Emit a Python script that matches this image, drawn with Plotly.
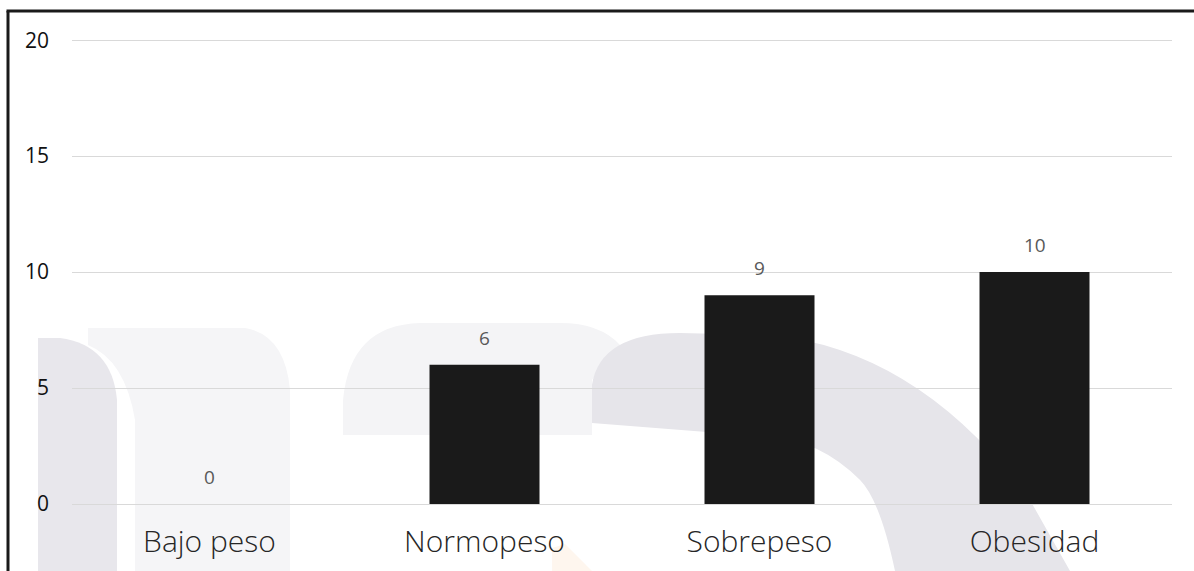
import plotly.graph_objects as go

categories = ["Bajo peso", "Normopeso", "Sobrepeso", "Obesidad"]
values = [0, 6, 9, 10]
y_ticks = [0, 5, 10, 15, 20]

W, H = 1194, 571
L, R, T, B = 72, 22, 39, 67
PW, PH = W - L - R, H - T - B


def px(x):
    return (x - L) / PW


def py(y):
    return (H - B - y) / PH


def path(cmds):
    out = []
    for c in cmds:
        if isinstance(c, str):
            out.append(c)
        else:
            out.append(f"{px(c[0]):.4f},{py(c[1]):.4f}")
    return " ".join(out)


fig = go.Figure()
fig.add_trace(go.Bar(
    x=categories, y=values,
    marker=dict(color="#1a1a1a", line=dict(width=0)),
    width=0.4,
    hoverinfo="skip",
))

annotations = []
for c, v in zip(categories, values):
    annotations.append(dict(
        x=c, y=v, xref="x", yref="y", text=str(v), showarrow=False,
        yanchor="bottom", yshift=12,
        font=dict(family="Open Sans", size=19, color="#595959"),
    ))

# faint watermark shapes (decoration)
wm = [
    ("#e8e7ec", ["M", (38, 571), "L", (38, 338), "L", (60, 338), "Q", (112, 345), (117, 400), "L", (117, 571), "Z"]),
    ("#f5f5f7", ["M", (88, 328), "L", (245, 328), "Q", (285, 335), (290, 390), "L", (290, 571), "L", (135, 571),
                 "L", (135, 420), "Q", (125, 360), (88, 345), "Z"]),
    ("#f4f4f6", ["M", (343, 435), "L", (343, 400), "Q", (350, 325), (420, 323), "L", (560, 323), "Q", (600, 323), (620, 345),
                 "L", (592, 380), "L", (592, 435), "Z"]),
    ("#e6e5ea", ["M", (592, 423), "L", (592, 385), "Q", (600, 333), (680, 333), "L", (770, 335),
                 "Q", (920, 350), (1030, 500), "L", (1070, 571), "L", (895, 571), "Q", (880, 500), (860, 480),
                 "Q", (820, 440), (770, 437), "Z"]),
    ("#fef6ee", ["M", (552, 548), "L", (565, 544), "L", (592, 571), "L", (552, 571), "Z"]),
]
shapes = []
for col, cmds in wm:
    shapes.append(dict(type="path", xref="paper", yref="paper", path=path(cmds),
                       fillcolor=col, line=dict(width=0), layer="below"))

# frame lines (left and top)
shapes.append(dict(type="line", xref="paper", yref="paper", x0=px(8), x1=px(8), y0=py(11), y1=py(575),
                   line=dict(color="#1a1a1a", width=3)))
shapes.append(dict(type="line", xref="paper", yref="paper", x0=px(6.5), x1=px(1200), y0=py(11), y1=py(11),
                   line=dict(color="#1a1a1a", width=3)))

fig.update_layout(
    width=W, height=H,
    margin=dict(l=L, r=R, t=T, b=B),
    paper_bgcolor="#ffffff", plot_bgcolor="rgba(0,0,0,0)",
    showlegend=False,
    bargap=0.6,
    annotations=annotations,
    shapes=shapes,
    xaxis=dict(
        showgrid=False, showline=False, zeroline=False, ticks="", automargin=False,
        tickfont=dict(family="Open Sans", size=30, color="#262626", weight=300),
        ticklabelstandoff=17,
    ),
    yaxis=dict(
        range=[0, 20.05], tickvals=y_ticks, ticktext=[str(t) for t in y_ticks],
        showgrid=True, gridcolor="#d9d9d9", gridwidth=1,
        zeroline=True, zerolinecolor="#d9d9d9", zerolinewidth=1,
        showline=False, ticks="", automargin=False,
        tickfont=dict(family="Open Sans", size=21, color="#111111"),
        ticklabelstandoff=22,
    ),
)

fig.write_html("out.html")
